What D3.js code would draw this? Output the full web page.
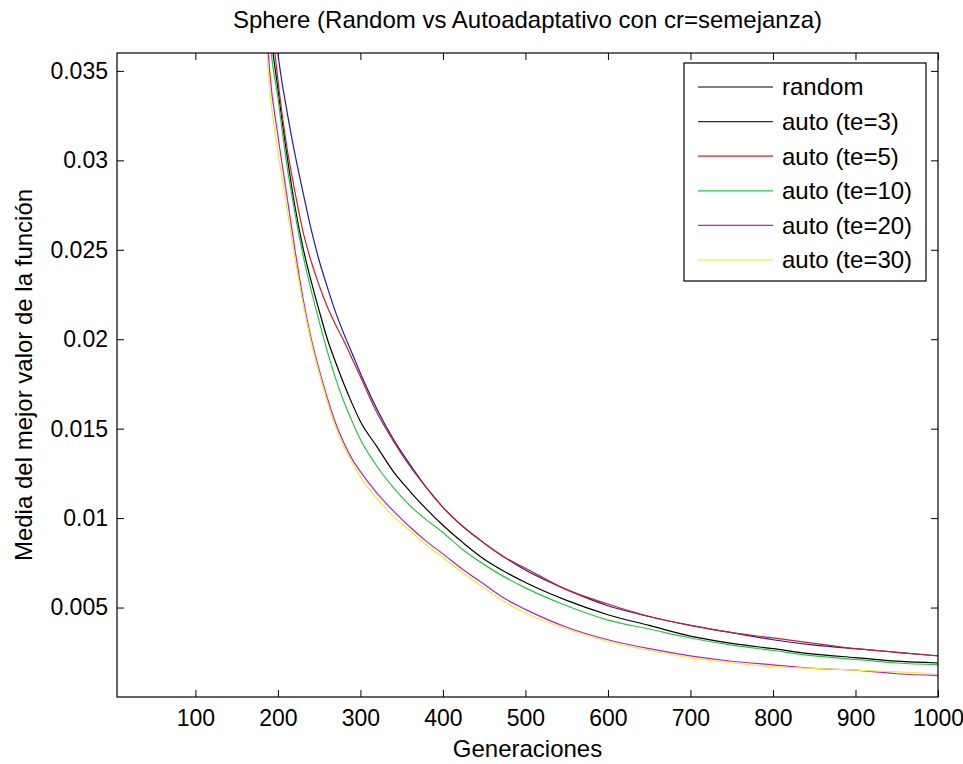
<!DOCTYPE html>
<html>
<head>
<meta charset="utf-8">
<script src="https://cdnjs.cloudflare.com/ajax/libs/d3/7.8.5/d3.min.js"></script>
<style>
	body { margin: 0; background: #ffffff; }
	text { font-family: "Liberation Sans", Arial, sans-serif; fill: #000; }
</style>
</head>
<body>
<script>

	// generations sampled along the x axis
	var generations = [185, 190, 200, 210, 220, 230, 240, 250, 260, 270, 280, 290, 300, 320, 340, 360,
		380, 400, 425, 450, 475, 500, 550, 600, 650, 700, 750, 800, 850, 900, 950, 1000];

	// mean best value of each run
	var randomVals = [0.0420, 0.0380, 0.0340, 0.0306, 0.0276, 0.0252, 0.0233, 0.0216, 0.0200, 0.0187, 0.0175, 0.0164, 0.0154, 0.0140, 0.0126, 0.0115,
		0.0105, 0.0096, 0.0086, 0.0077, 0.0070, 0.0064, 0.0054, 0.0046, 0.0040, 0.0034, 0.0030, 0.0027, 0.0024, 0.0022, 0.0020, 0.0019];
	var te3Vals = [0.0440, 0.0410, 0.0360, 0.0330, 0.0305, 0.0283, 0.0262, 0.0244, 0.0229, 0.0215, 0.0203, 0.0192, 0.0181, 0.0161, 0.0144, 0.0130,
		0.0117, 0.0106, 0.0095, 0.0086, 0.0078, 0.0071, 0.0060, 0.0051, 0.0045, 0.0040, 0.0036, 0.0032, 0.0029, 0.0027, 0.0025, 0.0023];
	var te5Vals = [0.0420, 0.0390, 0.0345, 0.0310, 0.0284, 0.0261, 0.0244, 0.0230, 0.0218, 0.0208, 0.0199, 0.0189, 0.0179, 0.0159, 0.0143, 0.0129,
		0.0117, 0.0106, 0.0095, 0.0086, 0.0078, 0.0072, 0.0060, 0.0052, 0.0045, 0.0040, 0.0036, 0.0033, 0.0030, 0.0027, 0.0025, 0.0023];
	var te10Vals = [0.0410, 0.0370, 0.0335, 0.0300, 0.0272, 0.0248, 0.0228, 0.0210, 0.0193, 0.0178, 0.0165, 0.0154, 0.0144, 0.0129, 0.0117, 0.0107,
		0.0099, 0.0092, 0.0082, 0.0074, 0.0067, 0.0061, 0.0051, 0.0043, 0.0038, 0.0033, 0.0029, 0.0026, 0.0023, 0.0021, 0.0019, 0.0018];
	var te20Vals = [0.0385, 0.0350, 0.0314, 0.0283, 0.0252, 0.0224, 0.0201, 0.0183, 0.0167, 0.0153, 0.0142, 0.0133, 0.0126, 0.0114, 0.0104, 0.0095,
		0.0087, 0.0080, 0.0071, 0.0063, 0.0055, 0.0049, 0.0039, 0.0032, 0.0027, 0.0023, 0.0020, 0.0018, 0.0016, 0.0015, 0.0013, 0.0012];
	var te30Vals = [0.0370, 0.0340, 0.0305, 0.0276, 0.0247, 0.0221, 0.0199, 0.0181, 0.0165, 0.0151, 0.0140, 0.0131, 0.0123, 0.0111, 0.0101, 0.0093,
		0.0085, 0.0078, 0.0069, 0.0061, 0.0053, 0.0047, 0.0038, 0.0031, 0.0026, 0.0022, 0.0019, 0.0017, 0.0016, 0.0015, 0.0014, 0.0013];

	var seriesNames = ["random", "auto (te=3)", "auto (te=5)", "auto (te=10)", "auto (te=20)", "auto (te=30)"];
	var seriesColors = ["#000000", "#1c1cb0", "#d0202c", "#24c83c", "#c01cc8", "#ecec2c"];
	var seriesValues = [randomVals, te3Vals, te5Vals, te10Vals, te20Vals, te30Vals];

	// axis ticks
	var xTicks = [100, 200, 300, 400, 500, 600, 700, 800, 900, 1000];
	var yTicks = [0.005, 0.01, 0.015, 0.02, 0.025, 0.03, 0.035];
	var yTickLabels = ["0.005", "0.01", "0.015", "0.02", "0.025", "0.03", "0.035"];

	var width = 963;
	var height = 764;
	// axes box (pixels)
	var plotLeft = 117, plotRight = 938, plotTop = 53, plotBottom = 697;

	var svg = d3.select("body")
		.append("svg")
		.attr("width", width)
		.attr("height", height);

	svg.append("rect")
		.attr("width", width)
		.attr("height", height)
		.style("fill", "#ffffff");

	var x = d3.scaleLinear().domain([5, 1000]).range([plotLeft, plotRight]);
	var y = d3.scaleLinear().domain([0, 0.036]).range([plotBottom, plotTop]);

	// clip the curves to the axes box
	svg.append("defs")
		.append("clipPath")
		.attr("id", "plotArea")
		.append("rect")
		.attr("x", plotLeft)
		.attr("y", plotTop)
		.attr("width", plotRight - plotLeft)
		.attr("height", plotBottom - plotTop);

	// ticks point inwards, on all four sides
	var tickLen = 7;

	var xAxis = d3.axisBottom(x).tickValues(xTicks).tickSize(-tickLen).tickPadding(13)
		.tickFormat(d3.format("d"));
	var xAxisTop = d3.axisTop(x).tickValues(xTicks).tickSize(-tickLen).tickFormat("");
	var yAxis = d3.axisLeft(y).tickValues(yTicks).tickSize(-tickLen).tickPadding(9)
		.tickFormat(function(d, i) { return yTickLabels[i]; });
	var yAxisRight = d3.axisRight(y).tickValues(yTicks).tickSize(-tickLen).tickFormat("");

	function styleAxis(g) {
		g.select(".domain").remove();
		g.selectAll(".tick line").style("stroke", "#000").style("stroke-width", 1);
		g.selectAll(".tick text")
			.style("font-family", "'Liberation Sans', Arial, sans-serif")
			.style("font-size", "23px")
			.style("fill", "#000");
	}

	svg.append("g").attr("transform", "translate(0," + plotBottom + ")").call(xAxis).call(styleAxis);
	svg.append("g").attr("transform", "translate(0," + plotTop + ")").call(xAxisTop).call(styleAxis);
	svg.append("g").attr("transform", "translate(" + plotLeft + ",0)").call(yAxis).call(styleAxis);
	svg.append("g").attr("transform", "translate(" + plotRight + ",0)").call(yAxisRight).call(styleAxis);

	// the curves
	var line = d3.line()
		.curve(d3.curveMonotoneX)
		.x(function(d) { return x(d[0]); })
		.y(function(d) { return y(d[1]); });

	var curves = svg.append("g").attr("clip-path", "url(#plotArea)");

	for (var s = 0; s < seriesValues.length; s++) {
		var pts = [];
		for (var i = 0; i < generations.length; i++) {
			pts.push([generations[i], seriesValues[s][i]]);
		}
		curves.append("path")
			.datum(pts)
			.attr("d", line)
			.style("fill", "none")
			.style("stroke", seriesColors[s])
			.style("stroke-width", 1.2);
	}

	// axes box
	svg.append("rect")
		.attr("x", plotLeft)
		.attr("y", plotTop)
		.attr("width", plotRight - plotLeft)
		.attr("height", plotBottom - plotTop)
		.style("fill", "none")
		.style("stroke", "#000")
		.style("stroke-width", 1.2);

	// title and axis labels
	svg.append("text")
		.attr("x", (plotLeft + plotRight) / 2)
		.attr("y", 28)
		.attr("text-anchor", "middle")
		.style("font-size", "24px")
		.text("Sphere (Random vs Autoadaptativo con cr=semejanza)");

	svg.append("text")
		.attr("x", (plotLeft + plotRight) / 2)
		.attr("y", 757)
		.attr("text-anchor", "middle")
		.style("font-size", "24px")
		.text("Generaciones");

	svg.append("text")
		.attr("transform", "translate(32," + (plotTop + plotBottom) / 2 + ") rotate(-90)")
		.attr("text-anchor", "middle")
		.style("font-size", "24px")
		.text("Media del mejor valor de la función");

	// legend
	var legX = 684, legY = 63, legW = 242, legH = 218;
	var rowStart = 87, rowStep = 34.6;

	var legend = svg.append("g");

	legend.append("rect")
		.attr("x", legX)
		.attr("y", legY)
		.attr("width", legW)
		.attr("height", legH)
		.style("fill", "#ffffff")
		.style("stroke", "#000")
		.style("stroke-width", 1.2);

	var rows = legend.selectAll("g.row")
		.data(seriesNames)
		.enter()
		.append("g")
		.attr("class", "row")
		.attr("transform", function(d, i) { return "translate(0," + (rowStart + i * rowStep) + ")"; });

	rows.append("line")
		.attr("x1", 698)
		.attr("x2", 773)
		.style("stroke", function(d, i) { return seriesColors[i]; })
		.style("stroke-width", 1.2);

	rows.append("text")
		.attr("x", 782)
		.attr("dy", "0.35em")
		.style("font-size", "24px")
		.text(function(d) { return d; });

</script>
</body>
</html>
